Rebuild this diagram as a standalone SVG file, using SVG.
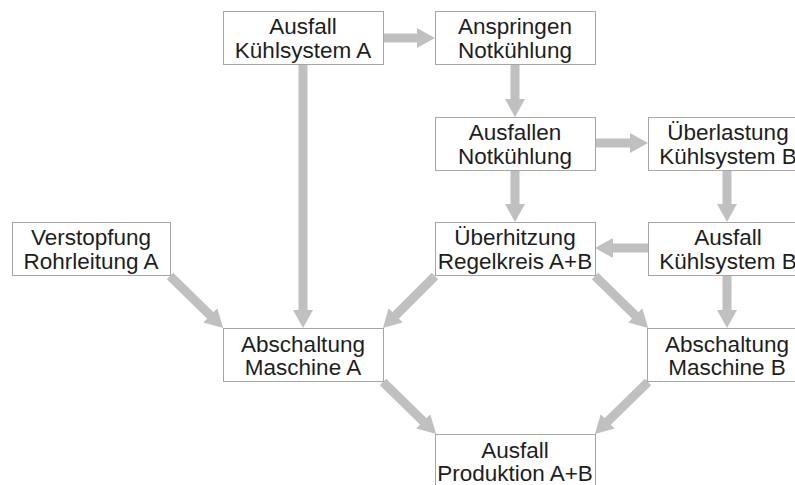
<svg xmlns="http://www.w3.org/2000/svg" width="795" height="485" viewBox="0 0 795 485">
<style>
.box{fill:#fff;stroke:#a6a6a6;stroke-width:1}
.t{font-family:"Liberation Sans",Arial,sans-serif;font-size:22.5px;fill:#1e1e1e;text-anchor:middle}
.c{stroke:#c0c0c0;stroke-width:9;fill:none;marker-end:url(#ah)}
</style>
<defs>
<marker id="ah" markerUnits="userSpaceOnUse" markerWidth="18" markerHeight="20" refX="8" refY="10" orient="auto" viewBox="0 0 18 20">
<path d="M0,0 L18,10 L0,20 z" fill="#c0c0c0"/>
</marker>
</defs>
<rect width="795" height="485" fill="#fff"/>
<g id="connectors">
<line class="c" x1="383" y1="38" x2="425" y2="38"/>
<line class="c" x1="303" y1="64" x2="303" y2="318"/>
<line class="c" x1="515" y1="64" x2="515" y2="107"/>
<line class="c" x1="595" y1="143" x2="638" y2="143"/>
<line class="c" x1="515" y1="170" x2="515" y2="212"/>
<line class="c" x1="727" y1="170" x2="727" y2="212"/>
<line class="c" x1="648" y1="248" x2="605" y2="248"/>
<line class="c" x1="727" y1="276" x2="727" y2="318"/>
<line class="c" x1="170" y1="276" x2="216" y2="321"/>
<line class="c" x1="435" y1="276" x2="390" y2="321"/>
<line class="c" x1="595" y1="276" x2="641" y2="321"/>
<line class="c" x1="383" y1="382" x2="429" y2="427"/>
<line class="c" x1="648" y1="382" x2="602" y2="427"/>
</g>
<g id="n1"><rect class="box" x="223.5" y="11.5" width="160" height="53"/><text class="t" x="303" y="34">Ausfall</text><text class="t" x="303" y="57.5">Kühlsystem A</text></g>
<g id="n2"><rect class="box" x="435.5" y="11.5" width="160" height="53"/><text class="t" x="515" y="34">Anspringen</text><text class="t" x="515" y="57.5">Notkühlung</text></g>
<g id="n3"><rect class="box" x="435.5" y="117.5" width="160" height="53"/><text class="t" x="515" y="140">Ausfallen</text><text class="t" x="515" y="163.5">Notkühlung</text></g>
<g id="n4"><rect class="box" x="648.5" y="117.5" width="160" height="53"/><text class="t" x="728" y="140">Überlastung</text><text class="t" x="728" y="163.5">Kühlsystem B</text></g>
<g id="n5"><rect class="box" x="435.5" y="222.5" width="160" height="53"/><text class="t" x="515" y="245">Überhitzung</text><text class="t" x="515" y="268.5">Regelkreis A+B</text></g>
<g id="n6"><rect class="box" x="648.5" y="222.5" width="160" height="53"/><text class="t" x="728" y="245">Ausfall</text><text class="t" x="728" y="268.5">Kühlsystem B</text></g>
<g id="n7"><rect class="box" x="12.5" y="222.5" width="158" height="53"/><text class="t" x="91" y="245">Verstopfung</text><text class="t" x="91" y="268.5">Rohrleitung A</text></g>
<g id="n8"><rect class="box" x="223.5" y="328.5" width="160" height="53"/><text class="t" x="303" y="351.5">Abschaltung</text><text class="t" x="303" y="375">Maschine A</text></g>
<g id="n9"><rect class="box" x="647.5" y="328.5" width="160" height="53"/><text class="t" x="727" y="351.5">Abschaltung</text><text class="t" x="727" y="375">Maschine B</text></g>
<g id="n10"><rect class="box" x="435.5" y="434.5" width="160" height="53"/><text class="t" x="515" y="457.5">Ausfall</text><text class="t" x="515" y="481">Produktion A+B</text></g>
</svg>
